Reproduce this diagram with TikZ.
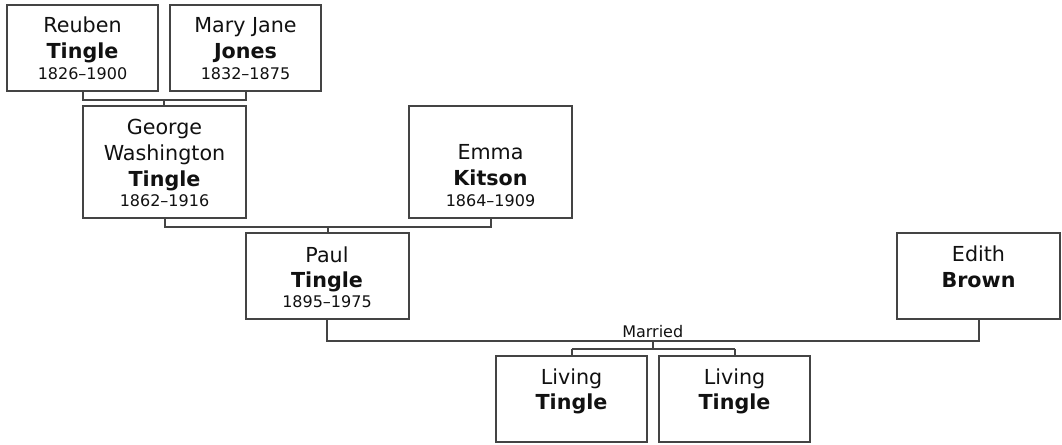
\documentclass[tikz,border=0pt]{standalone}
\usepackage{fontspec}
\setmainfont{DejaVu Sans}
\usetikzlibrary{calc}
\definecolor{ln}{HTML}{444444}
\definecolor{tx}{HTML}{111111}
\begin{document}
\begin{tikzpicture}[x=0.75pt,y=-0.75pt,
  person/.style={draw=ln, line width=1.5pt, fill=white, inner sep=0pt},
  narrowbox/.style={person, minimum width=113.25pt, minimum height=64.5pt},
  widebox/.style={person, minimum width=122.25pt, minimum height=64.5pt},
  tallbox/.style={person, minimum width=122.25pt, minimum height=84pt},
  conn/.style={draw=ln, line width=1.5pt},
  txt/.style={anchor=base, inner sep=0pt, text=tx},
  nm/.style={txt, font=\fontsize{15.5}{18}\selectfont},
  bd/.style={txt, font=\fontsize{15.5}{18}\selectfont\bfseries},
  dt/.style={txt, font=\fontsize{12}{14}\selectfont},
  lbl/.style={txt, font=\fontsize{12}{14}\selectfont}
]
\useasboundingbox (0,0) rectangle (1062,445);

% boxes
\node[narrowbox] (reuben) at (82.5,48) {};
\node[narrowbox] (mary)   at (245.5,48) {};
\node[tallbox]   (george) at (164.5,162) {};
\node[tallbox]   (emma)   at (490.5,162) {};
\node[widebox]   (paul)   at (327,276) {};
\node[widebox]   (edith)  at (978.5,276) {};
\node[narrowbox] (liv1)   at (571.5,399) {};
\node[narrowbox] (liv2)   at (734.5,399) {};

% texts
\node[nm] at ($(reuben.north)+(0,29)$) {Reuben};
\node[bd] at ($(reuben.north)+(0,55)$) {Tingle};
\node[dt] at ($(reuben.north)+(0,76)$) {1826–1900};

\node[nm] at ($(mary.north)+(0,29)$) {Mary Jane};
\node[bd] at ($(mary.north)+(0,55)$) {Jones};
\node[dt] at ($(mary.north)+(0,76)$) {1832–1875};

\node[nm] at ($(george.north)+(0,30)$) {George};
\node[nm] at ($(george.north)+(0,56)$) {Washington};
\node[bd] at ($(george.north)+(0,82)$) {Tingle};
\node[dt] at ($(george.north)+(0,102)$) {1862–1916};

\node[nm] at ($(emma.north)+(0,55)$) {Emma};
\node[bd] at ($(emma.north)+(0,81)$) {Kitson};
\node[dt] at ($(emma.north)+(0,102)$) {1864–1909};

\node[nm] at ($(paul.north)+(0,30)$) {Paul};
\node[bd] at ($(paul.north)+(0,55)$) {Tingle};
\node[dt] at ($(paul.north)+(0,75)$) {1895–1975};

\node[nm] at ($(edith.north)+(0,29)$) {Edith};
\node[bd] at ($(edith.north)+(0,55)$) {Brown};

\node[nm] at ($(liv1.north)+(0,29)$) {Living};
\node[bd] at ($(liv1.north)+(0,54)$) {Tingle};

\node[nm] at ($(liv2.north)+(0,29)$) {Living};
\node[bd] at ($(liv2.north)+(0,54)$) {Tingle};

% connectors
\draw[conn] (reuben.south) -- ++(0,8) -| (mary.south);
\coordinate (c1) at ($(reuben.south)!0.5!(mary.south)+(0,8)$);
\draw[conn] (c1) -- (c1 |- george.north);

\draw[conn] (george.south) -- ++(0,8) -| (emma.south);
\coordinate (c2) at ($(george.south)!0.5!(emma.south)+(0,8)$);
\draw[conn] (c2) -- (c2 |- paul.north);

\draw[conn] (paul.south) -- ++(0,21) -| (edith.south);
\coordinate (c3) at ($(paul.south)!0.5!(edith.south)+(0,21)$);
\node[lbl] (married) at ($(c3)+(0,-4)$) {Married};
\coordinate (c4) at ($(c3)+(0,8)$);
\draw[conn] (c3) -- (c4);
\draw[conn] (c4 -| liv1.north) -- (c4 -| liv2.north);
\draw[conn] (c4 -| liv1.north) -- (liv1.north);
\draw[conn] (c4 -| liv2.north) -- (liv2.north);
\end{tikzpicture}
\end{document}
